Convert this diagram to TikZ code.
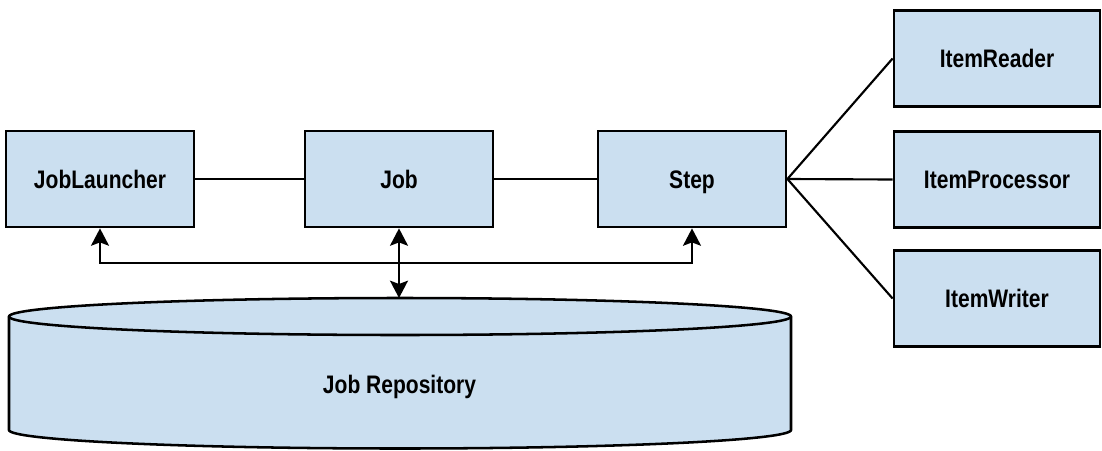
\documentclass[tikz,border=0pt]{standalone}
\usepackage{fontspec}
\setmainfont{Liberation Sans}[FakeStretch=0.83]
\usetikzlibrary{arrows.meta}
\definecolor{boxfill}{RGB}{203,223,240}
\tikzset{
  label/.style={font=\fontsize{19pt}{22pt}\selectfont\bfseries, text height=13.6pt, text depth=0pt, inner sep=0pt},
  comp/.style={label, draw=black, line width=2.1pt, fill=boxfill,
    minimum width=141pt, minimum height=72pt},
  part/.style={comp, minimum width=154.5pt},
  wire/.style={line width=1.6pt},
  flow/.style={wire, -{Stealth[length=13pt, width=13.5pt, inset=2.5pt]}},
  both/.style={wire, {Stealth[length=13pt, width=13.5pt, inset=2.5pt]}-{Stealth[length=13pt, width=13.5pt, inset=2.5pt]}},
}
\begin{document}
\begin{tikzpicture}[x=0.75pt, y=-0.75pt]
\useasboundingbox (0,0) rectangle (1102,450);

% repository drum
\draw[line width=1.9pt, fill=boxfill]
  (9,316.5) -- (9,430) arc[start angle=180, end angle=0, x radius=391, y radius=18.5]
  -- (791,316.5) arc[start angle=0, end angle=-180, x radius=391, y radius=18.5] -- cycle;
\draw[line width=1.9pt]
  (9,316.5) arc[start angle=180, end angle=0, x radius=391, y radius=18.5];
\node[label] (repo) at (399.5,384) {Job Repository};
\coordinate (repotop) at (399,298);

% components
\node[comp] (launcher) at (100,179) {JobLauncher};
\node[comp] (job) at (399,179) {Job};
\node[comp] (step) at (692,179) {Step};
\node[part] (reader) at (997,58.5) {ItemReader};
\node[part] (processor) at (997,179.5) {ItemProcessor};
\node[part] (writer) at (997,298.5) {ItemWriter};

% chain of components
\draw[wire] (launcher) -- (job);
\draw[wire] (job) -- (step);
\draw[wire] (step.east) -- (reader.west);
\draw[wire] (step.east) -- (processor.west);
\draw[wire] (step.east) -- (writer.west);

% repository links
\coordinate (bus) at (399,263);
\draw[flow] (bus) -| (launcher.south);
\draw[flow] (bus) -| (step.south);
\draw[both] (job.south) -- (repotop);
\end{tikzpicture}
\end{document}
